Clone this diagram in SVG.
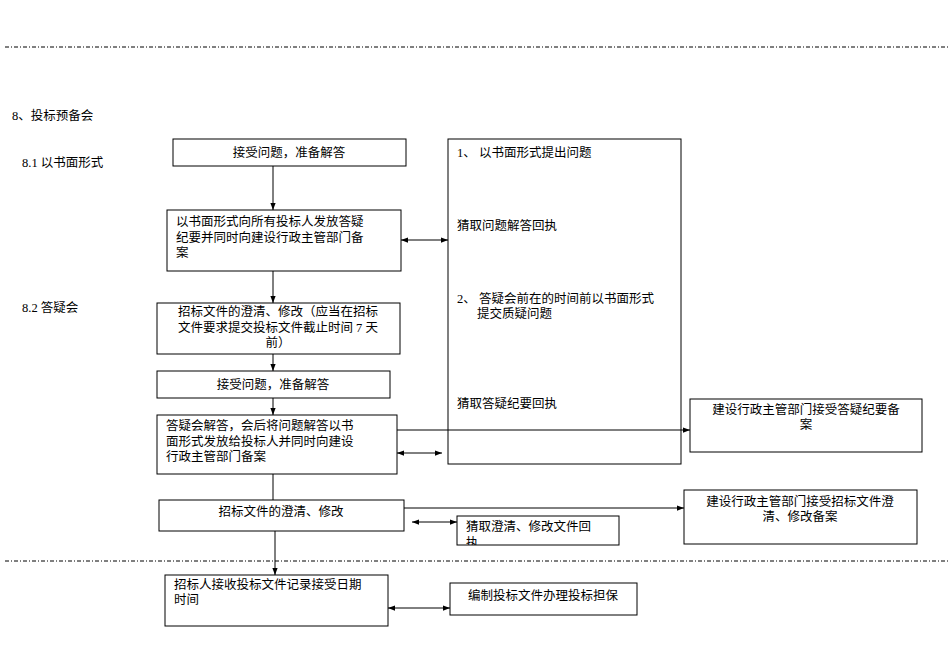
<svg xmlns="http://www.w3.org/2000/svg" width="950" height="672" viewBox="0 0 950 672">
<style>
text{font-family:"Liberation Serif","Noto Sans CJK SC",serif;font-size:12.5px;fill:#000}
.b{fill:#fff;stroke:#000;stroke-width:1}
.l{stroke:#000;stroke-width:1;fill:none}
.d{stroke:#000;stroke-width:1;stroke-dasharray:4 2 1 2}
.m{text-anchor:middle}
</style>
<defs>
<marker id="a" viewBox="0 0 8 8" refX="8" refY="4" markerWidth="7" markerHeight="7" orient="auto-start-reverse"><path d="M0,1L8,4L0,7z" fill="#000"/></marker>
<clipPath id="c"><rect x="457" y="516" width="162" height="29"/></clipPath>
</defs>
<rect width="950" height="672" fill="#fff"/>
<line class="d" x1="5" y1="47" x2="950" y2="47"/>
<line class="d" x1="5" y1="561" x2="950" y2="561"/>
<text x="12" y="120">8、投标预备会</text>
<text x="22" y="167">8.1 以书面形式</text>
<text x="22" y="312">8.2 答疑会</text>
<g id="connectors">
<line class="l" x1="273" y1="166" x2="273" y2="210" marker-end="url(#a)"/>
<line class="l" x1="273" y1="271" x2="273" y2="303" marker-end="url(#a)"/>
<line class="l" x1="273" y1="354" x2="273" y2="371" marker-end="url(#a)"/>
<line class="l" x1="273" y1="398" x2="273" y2="415" marker-end="url(#a)"/>
<line class="l" x1="273" y1="474" x2="273" y2="500"/>
<line class="l" x1="275" y1="531" x2="275" y2="575" marker-end="url(#a)"/>
<line class="l" x1="401" y1="240" x2="448" y2="240" marker-start="url(#a)" marker-end="url(#a)"/>
<line class="l" x1="397" y1="430" x2="690" y2="430" marker-end="url(#a)"/>
<line class="l" x1="397" y1="453" x2="442" y2="453" marker-start="url(#a)" marker-end="url(#a)"/>
<line class="l" x1="404" y1="508" x2="684" y2="508" marker-end="url(#a)"/>
<line class="l" x1="412" y1="522" x2="457" y2="522" marker-start="url(#a)" marker-end="url(#a)"/>
<line class="l" x1="388" y1="608" x2="450" y2="608" marker-start="url(#a)" marker-end="url(#a)"/>
</g>
<g id="n1"><rect class="b" x="173" y="139" width="233" height="27"/><text class="m" x="289" y="157">接受问题，准备解答</text></g>
<g id="n2"><rect class="b" x="167" y="210" width="234" height="61"/><text x="176" y="226">以书面形式向所有投标人发放答疑</text><text x="176" y="242">纪要并同时向建设行政主管部门备</text><text x="176" y="257">案</text></g>
<g id="n3"><rect class="b" x="157" y="303" width="243" height="51"/><text class="m" x="278" y="316">招标文件的澄清、修改（应当在招标</text><text class="m" x="278" y="332">文件要求提交投标文件截止时间 7 天</text><text class="m" x="278" y="347">前）</text></g>
<g id="n4"><rect class="b" x="157" y="371" width="233" height="27"/><text class="m" x="273" y="389">接受问题，准备解答</text></g>
<g id="n5"><rect class="b" x="157" y="415" width="240" height="59"/><text x="166" y="430">答疑会解答，会后将问题解答以书</text><text x="166" y="446">面形式发放给投标人并同时向建设</text><text x="166" y="461">行政主管部门备案</text></g>
<g id="big"><rect class="l" x="448" y="139" width="233" height="325"/><text x="457" y="157">1、 以书面形式提出问题</text><text x="457" y="230">猜取问题解答回执</text><text x="457" y="303">2、 答疑会前在的时间前以书面形式</text><text x="477" y="318">提交质疑问题</text><text x="457" y="408">猜取答疑纪要回执</text></g>
<g id="r1"><rect class="b" x="690" y="399" width="232" height="53"/><text class="m" x="806" y="414">建设行政主管部门接受答疑纪要备</text><text class="m" x="806" y="429">案</text></g>
<g id="n6"><rect class="b" x="159" y="500" width="245" height="31"/><text class="m" x="281" y="516">招标文件的澄清、修改</text></g>
<g id="r2"><rect class="b" x="684" y="490" width="233" height="54"/><text class="m" x="800" y="506">建设行政主管部门接受招标文件澄</text><text class="m" x="800" y="521">清、修改备案</text></g>
<g id="s1"><rect class="b" x="457" y="516" width="162" height="29"/><g clip-path="url(#c)"><text x="466" y="531">猜取澄清、修改文件回</text><text x="466" y="547">执</text></g></g>
<g id="n7"><rect class="b" x="165" y="575" width="223" height="51"/><text x="174" y="589">招标人接收投标文件记录接受日期</text><text x="174" y="604">时间</text></g>
<g id="n8"><rect class="b" x="450" y="583" width="187" height="32"/><text class="m" x="543" y="600">编制投标文件办理投标担保</text></g>
</svg>
